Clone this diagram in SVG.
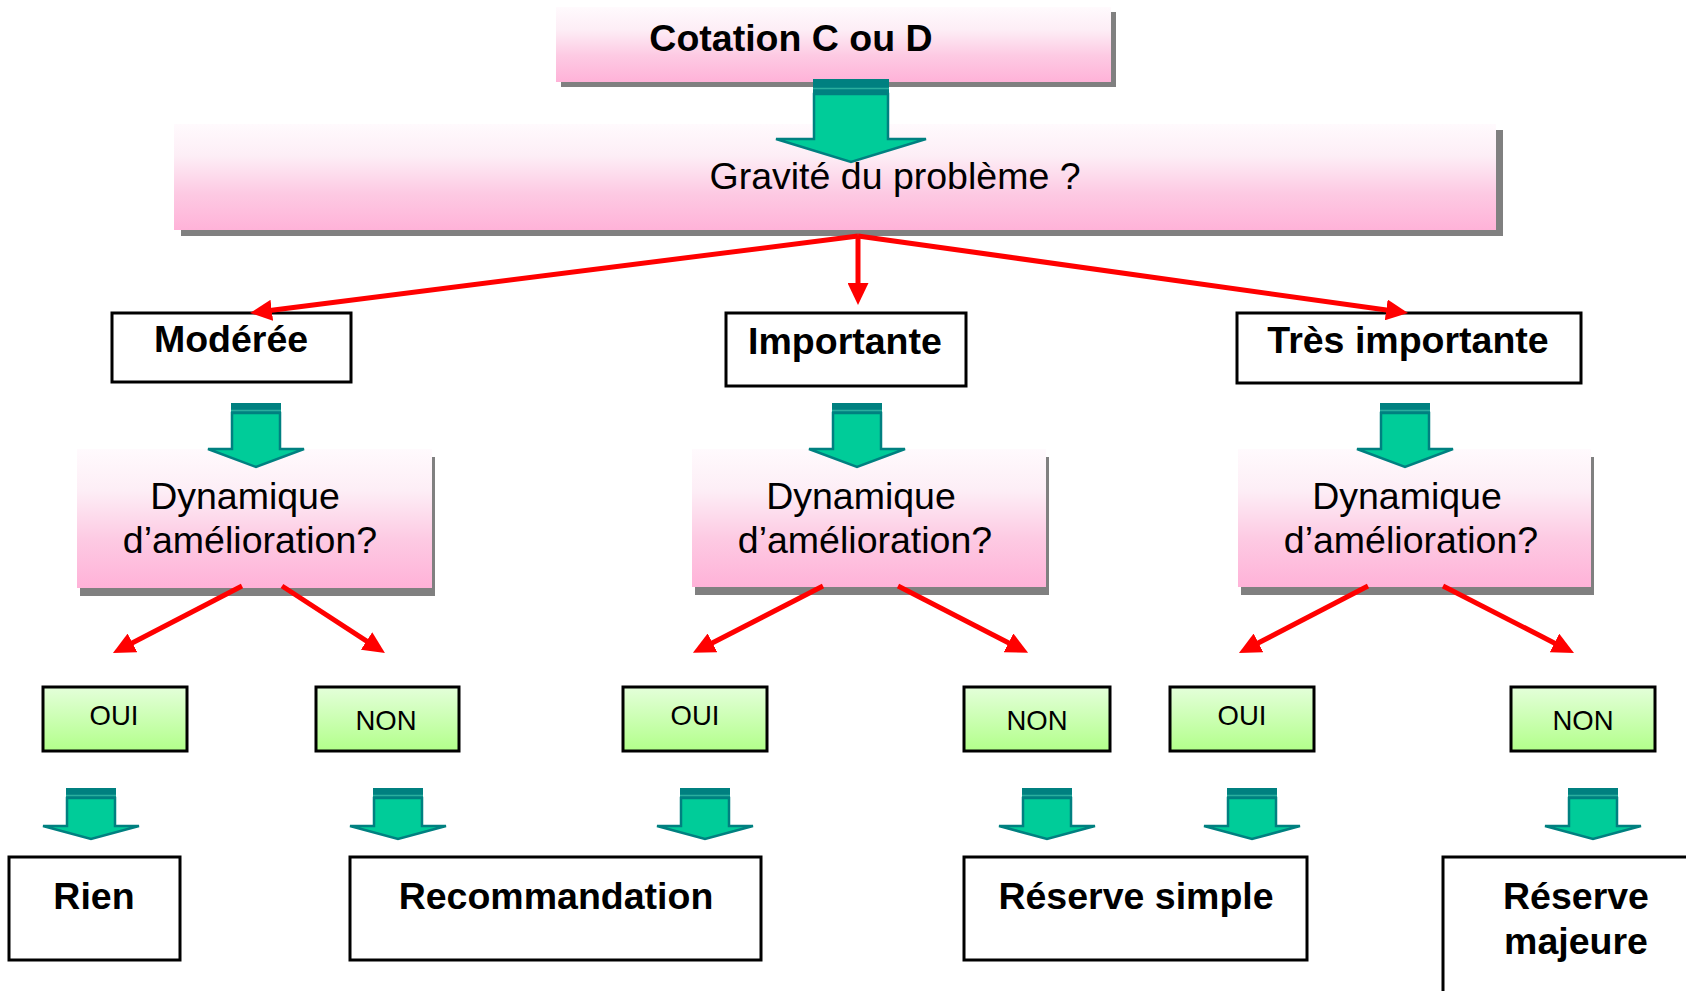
<svg xmlns="http://www.w3.org/2000/svg" width="1686" height="991" viewBox="0 0 1686 991">
<defs>
  <linearGradient id="pink" x1="0" y1="0" x2="0" y2="1">
    <stop offset="0" stop-color="#FFFAFD"/>
    <stop offset="0.3" stop-color="#FDEEF6"/>
    <stop offset="0.65" stop-color="#FDCAE3"/>
    <stop offset="1" stop-color="#FFB2D8"/>
  </linearGradient>
  <linearGradient id="green" x1="0" y1="0" x2="0" y2="1">
    <stop offset="0" stop-color="#E4FFDA"/>
    <stop offset="1" stop-color="#B2FF8A"/>
  </linearGradient>
  <marker id="ah" markerUnits="userSpaceOnUse" markerWidth="22" markerHeight="21" refX="2" refY="10.5" orient="auto" viewBox="0 0 22 21">
    <path d="M0,0 L22,10.5 L0,21 Z" fill="#FF0000"/>
  </marker>
  <g id="tBig">
    <path class="tb" d="M-37,15 H37 V60 H75 L0,83 L-75,60 H-37 Z"/>
    <rect class="tc" x="-38" y="0" width="76" height="15"/>
    <line class="tl" x1="-38" y1="9.5" x2="38" y2="9.5"/>
  </g>
  <g id="tA">
    <path class="tb" d="M-24,10 H24 V46 H48 L0,64 L-48,46 H-24 Z"/>
    <rect class="tc" x="-25" y="0" width="50" height="11"/>
    <line class="tl" x1="-25" y1="7.5" x2="25" y2="7.5"/>
  </g>
  <g id="tB">
    <path class="tb" d="M-24,10 H24 V38 H48 L0,51 L-48,38 H-24 Z"/>
    <rect class="tc" x="-25" y="0" width="50" height="11"/>
    <line class="tl" x1="-25" y1="7.5" x2="25" y2="7.5"/>
  </g>
</defs>
<style>
  .t { font-family: "Liberation Sans", Arial, sans-serif; fill: #000; text-anchor: middle; }
  .b { font-weight: bold; font-size: 37.5px; }
  .r { font-size: 37.5px; }
  .s { font-size: 27.5px; }
  .box { fill: #FFFFFF; stroke: #000; stroke-width: 3; }
  .yn { fill: url(#green); stroke: #000; stroke-width: 3; }
  .pk { fill: url(#pink); }
  .sh { fill: #808080; }
  .red { stroke: #FF0000; stroke-width: 5; fill: none; marker-end: url(#ah); }
  .tb { fill: #00CC99; stroke: #008080; stroke-width: 2.5; }
  .tc { fill: #008080; }
  .tl { stroke: #2AAE9E; stroke-width: 1.5; }
</style>
<rect x="0" y="0" width="1686" height="991" fill="#FFFFFF"/>

<g id="cotation">
  <rect class="sh" x="561" y="12" width="555" height="75"/>
  <rect class="pk" x="556" y="7" width="555" height="75"/>
  <text class="t b" x="791" y="51">Cotation C ou D</text>
</g>

<g id="gravite">
  <rect class="sh" x="181" y="130" width="1322" height="106"/>
  <rect class="pk" x="174" y="124" width="1322" height="106"/>
  <text class="t r" x="895" y="189">Gravité du problème ?</text>
</g>

<g id="moderee">
  <rect class="box" x="112" y="313" width="239" height="69"/>
  <text class="t b" x="231" y="352">Modérée</text>
</g>
<g id="importante">
  <rect class="box" x="726" y="313" width="240" height="73"/>
  <text class="t b" x="845" y="354">Importante</text>
</g>
<g id="tres-importante">
  <rect class="box" x="1237" y="313" width="344" height="70"/>
  <text class="t b" x="1408" y="353">Très importante</text>
</g>

<g id="dyn-moderee">
  <rect class="sh" x="80" y="457" width="355" height="139"/>
  <rect class="pk" x="77" y="449" width="355" height="139"/>
  <text class="t r" x="245" y="509">Dynamique</text>
  <text class="t r" x="250" y="553">d’amélioration?</text>
</g>
<g id="dyn-importante">
  <rect class="sh" x="695" y="457" width="354" height="138"/>
  <rect class="pk" x="692" y="449" width="354" height="138"/>
  <text class="t r" x="861" y="509">Dynamique</text>
  <text class="t r" x="865" y="553">d’amélioration?</text>
</g>
<g id="dyn-tres">
  <rect class="sh" x="1241" y="457" width="353" height="138"/>
  <rect class="pk" x="1238" y="449" width="353" height="138"/>
  <text class="t r" x="1407" y="509">Dynamique</text>
  <text class="t r" x="1411" y="553">d’amélioration?</text>
</g>

<g id="oui-1"><rect class="yn" x="43" y="687" width="144" height="64"/><text class="t s" x="114" y="725">OUI</text></g>
<g id="non-1"><rect class="yn" x="316" y="687" width="143" height="64"/><text class="t s" x="386" y="730">NON</text></g>
<g id="oui-2"><rect class="yn" x="623" y="687" width="144" height="64"/><text class="t s" x="695" y="725">OUI</text></g>
<g id="non-2"><rect class="yn" x="964" y="687" width="146" height="64"/><text class="t s" x="1037" y="730">NON</text></g>
<g id="oui-3"><rect class="yn" x="1170" y="687" width="144" height="64"/><text class="t s" x="1242" y="725">OUI</text></g>
<g id="non-3"><rect class="yn" x="1511" y="687" width="144" height="64"/><text class="t s" x="1583" y="730">NON</text></g>

<g id="rien">
  <rect class="box" x="9" y="857" width="171" height="103"/>
  <text class="t b" x="94" y="909">Rien</text>
</g>
<g id="recommandation">
  <rect class="box" x="350" y="857" width="411" height="103"/>
  <text class="t b" x="556" y="909">Recommandation</text>
</g>
<g id="reserve-simple">
  <rect class="box" x="964" y="857" width="343" height="103"/>
  <text class="t b" x="1136" y="909">Réserve simple</text>
</g>
<g id="reserve-majeure">
  <rect class="box" x="1443" y="857" width="260" height="150"/>
  <text class="t b" x="1576" y="909">Réserve</text>
  <text class="t b" x="1576" y="954">majeure</text>
</g>

<g id="connectors">
  <use href="#tBig" x="851" y="79"/>
  <use href="#tA" x="256" y="403"/>
  <use href="#tA" x="857" y="403"/>
  <use href="#tA" x="1405" y="403"/>
  <use href="#tB" x="91" y="788"/>
  <use href="#tB" x="398" y="788"/>
  <use href="#tB" x="705" y="788"/>
  <use href="#tB" x="1047" y="788"/>
  <use href="#tB" x="1252" y="788"/>
  <use href="#tB" x="1593" y="788"/>

  <line class="red" x1="858" y1="236" x2="269.8" y2="310.5"/>
  <line class="red" x1="858" y1="236" x2="858" y2="285"/>
  <line class="red" x1="858" y1="236" x2="1388.2" y2="310.2"/>

  <line class="red" x1="242" y1="586" x2="130.7" y2="643.8"/>
  <line class="red" x1="282" y1="586" x2="368.2" y2="642.1"/>
  <line class="red" x1="823" y1="586" x2="710.7" y2="643.7"/>
  <line class="red" x1="898" y1="586" x2="1010.3" y2="643.7"/>
  <line class="red" x1="1368" y1="586" x2="1256.7" y2="643.8"/>
  <line class="red" x1="1443" y1="586" x2="1556.2" y2="643.9"/>
</g>
</svg>
